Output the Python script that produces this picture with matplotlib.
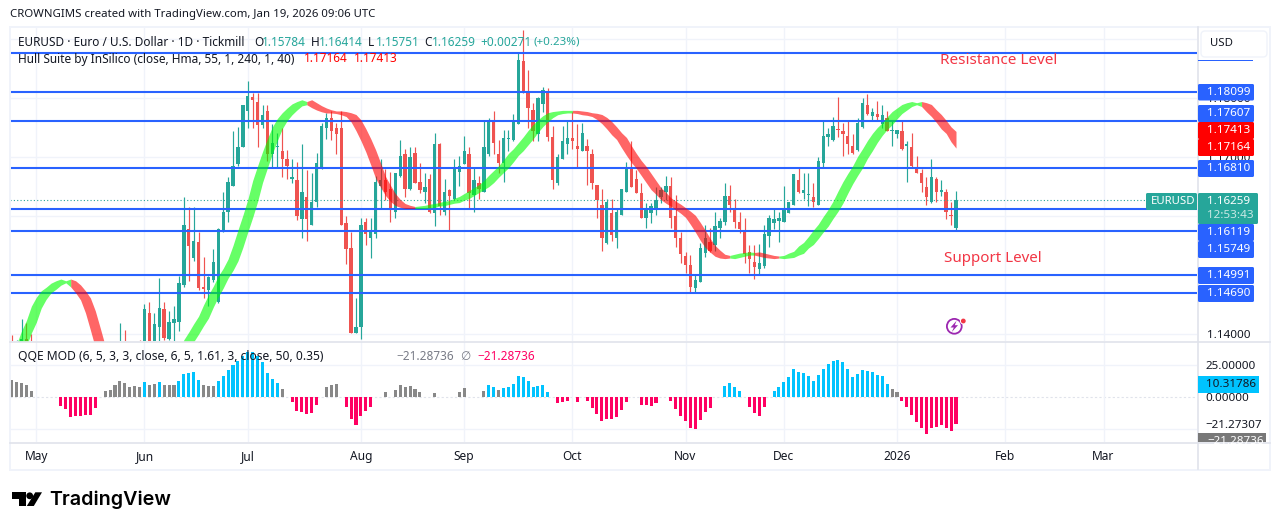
import numpy as np
import matplotlib
matplotlib.use("Agg")
import matplotlib.pyplot as plt
from matplotlib.patches import Rectangle, FancyBboxPatch, Polygon, Circle

plt.rcParams['font.family'] = ['Noto Sans', 'DejaVu Sans']

# Daily EURUSD candles, one entry per session from late April 2025
opens = [
    1.1365, 1.1340, 1.1365, 1.1391, 1.1372, 1.1330, 1.1345, 1.1305, 1.1285, 1.1250,
    1.1225, 1.1240, 1.1180, 1.1090, 1.1170, 1.1145, 1.1190, 1.1165, 1.1280, 1.1330,
    1.1290, 1.1280, 1.1340, 1.1375, 1.1330, 1.1350, 1.1350, 1.1330, 1.1435, 1.1370,
    1.1411, 1.1442, 1.1391, 1.1418, 1.1420, 1.1482, 1.1577, 1.1528, 1.1555, 1.1479,
    1.1474, 1.1491, 1.1454, 1.1574, 1.1606, 1.1651, 1.1688, 1.1717, 1.1778, 1.1802,
    1.1793, 1.1754, 1.1778, 1.1705, 1.1717, 1.1710, 1.1697, 1.1663, 1.1660, 1.1594,
    1.1631, 1.1585, 1.1624, 1.1682, 1.1748, 1.1765, 1.1748, 1.1748, 1.1587, 1.1545,
    1.1401, 1.1411, 1.1589, 1.1563, 1.1569, 1.1650, 1.1660, 1.1645, 1.1606, 1.1668,
    1.1704, 1.1645, 1.1707, 1.1658, 1.1641, 1.1663, 1.1604, 1.1721, 1.1606, 1.1643,
    1.1628, 1.1675, 1.1687, 1.1705, 1.1636, 1.1656, 1.1641, 1.1705, 1.1761, 1.1705,
    1.1690, 1.1730, 1.1729, 1.1756, 1.1863, 1.1809, 1.1780, 1.1739, 1.1790, 1.1809,
    1.1734, 1.1655, 1.1697, 1.1721, 1.1732, 1.1719, 1.1709, 1.1719, 1.1705, 1.1653,
    1.1618, 1.1553, 1.1604, 1.1563, 1.1602, 1.1640, 1.1680, 1.1663, 1.1638, 1.1596,
    1.1604, 1.1609, 1.1631, 1.1640, 1.1650, 1.1599, 1.1563, 1.1531, 1.1516, 1.1477,
    1.1488, 1.1536, 1.1555, 1.1550, 1.1579, 1.1589, 1.1633, 1.1612, 1.1589, 1.1575,
    1.1538, 1.1521, 1.1509, 1.1514, 1.1565, 1.1587, 1.1591, 1.1589, 1.1604, 1.1619,
    1.1661, 1.1638, 1.1635, 1.1631, 1.1619, 1.1690, 1.1734, 1.1729, 1.1747, 1.1744,
    1.1736, 1.1719, 1.1712, 1.1751, 1.1788, 1.1770, 1.1773, 1.1756, 1.1765, 1.1743,
    1.1738, 1.1744, 1.1719, 1.1717, 1.1682, 1.1673, 1.1648, 1.1623, 1.1663, 1.1640,
    1.1640, 1.1602, 1.15784,
]
highs = [
    1.1398, 1.1390, 1.1425, 1.1418, 1.1400, 1.1365, 1.1380, 1.1340, 1.1320, 1.1285,
    1.1260, 1.1265, 1.1200, 1.1190, 1.1265, 1.1225, 1.1235, 1.1285, 1.1365, 1.1345,
    1.1310, 1.1385, 1.1418, 1.1406, 1.1375, 1.1380, 1.1389, 1.1450, 1.1454, 1.1435,
    1.1494, 1.1454, 1.1438, 1.1447, 1.1498, 1.1631, 1.1614, 1.1614, 1.1572, 1.1530,
    1.1498, 1.1543, 1.1580, 1.1641, 1.1665, 1.1744, 1.1751, 1.1788, 1.1829, 1.1809,
    1.1809, 1.1788, 1.1788, 1.1756, 1.1741, 1.1748, 1.1712, 1.1697, 1.1692, 1.1721,
    1.1677, 1.1672, 1.1707, 1.1758, 1.1775, 1.1778, 1.1758, 1.1778, 1.1599, 1.1572,
    1.1460, 1.1596, 1.1596, 1.1596, 1.1668, 1.1697, 1.1680, 1.1675, 1.1672, 1.1729,
    1.1714, 1.1716, 1.1716, 1.1690, 1.1673, 1.1670, 1.1741, 1.1724, 1.1663, 1.1646,
    1.1697, 1.1702, 1.1736, 1.1717, 1.1682, 1.1668, 1.1760, 1.1765, 1.1778, 1.1729,
    1.1746, 1.1746, 1.1773, 1.1876, 1.1915, 1.1847, 1.1792, 1.1802, 1.1819, 1.1817,
    1.1753, 1.1705, 1.1753, 1.1761, 1.1776, 1.1756, 1.1758, 1.1731, 1.1714, 1.1653,
    1.1646, 1.1628, 1.1628, 1.1612, 1.1646, 1.1692, 1.1727, 1.1677, 1.1655, 1.1621,
    1.1621, 1.1648, 1.1648, 1.1668, 1.1665, 1.1636, 1.1572, 1.1538, 1.1533, 1.1499,
    1.1553, 1.1584, 1.1580, 1.1606, 1.1597, 1.1655, 1.1653, 1.1628, 1.1607, 1.1597,
    1.1550, 1.1550, 1.1552, 1.1585, 1.1601, 1.1612, 1.1606, 1.1651, 1.1624, 1.1670,
    1.1682, 1.1672, 1.1672, 1.1656, 1.1699, 1.1761, 1.1749, 1.1768, 1.1802, 1.1758,
    1.1761, 1.1738, 1.1766, 1.1800, 1.1807, 1.1783, 1.1795, 1.1788, 1.1778, 1.1760,
    1.1746, 1.1763, 1.1727, 1.1741, 1.1702, 1.1680, 1.1665, 1.1697, 1.1665, 1.1661,
    1.1646, 1.1624, 1.16414,
]
lows = [
    1.1330, 1.1325, 1.1355, 1.1340, 1.1320, 1.1310, 1.1298, 1.1270, 1.1240, 1.1205,
    1.1190, 1.1170, 1.1085, 1.1075, 1.1125, 1.1120, 1.1160, 1.1150, 1.1260, 1.1265,
    1.1250, 1.1275, 1.1330, 1.1300, 1.1285, 1.1300, 1.1300, 1.1320, 1.1350, 1.1360,
    1.1385, 1.1389, 1.1389, 1.1388, 1.1405, 1.1480, 1.1489, 1.1523, 1.1474, 1.1460,
    1.1447, 1.1488, 1.1452, 1.1572, 1.1589, 1.1651, 1.1685, 1.1717, 1.1748, 1.1748,
    1.1717, 1.1749, 1.1693, 1.1682, 1.1682, 1.1665, 1.1663, 1.1655, 1.1592, 1.1562,
    1.1557, 1.1585, 1.1614, 1.1680, 1.1731, 1.1729, 1.1704, 1.1584, 1.1518, 1.1401,
    1.1401, 1.1391, 1.1550, 1.1528, 1.1563, 1.1611, 1.1626, 1.1589, 1.1597, 1.1665,
    1.1631, 1.1643, 1.1655, 1.1638, 1.1621, 1.1604, 1.1582, 1.1602, 1.1602, 1.1574,
    1.1626, 1.1650, 1.1687, 1.1612, 1.1607, 1.1629, 1.1641, 1.1702, 1.1705, 1.1673,
    1.1658, 1.1710, 1.1727, 1.1756, 1.1809, 1.1749, 1.1727, 1.1727, 1.1776, 1.1727,
    1.1645, 1.1653, 1.1697, 1.1705, 1.1714, 1.1682, 1.1709, 1.1653, 1.1646, 1.1597,
    1.1541, 1.1552, 1.1558, 1.1545, 1.1601, 1.1640, 1.1648, 1.1638, 1.1597, 1.1579,
    1.1587, 1.1602, 1.1621, 1.1626, 1.1579, 1.1547, 1.1520, 1.1503, 1.1470, 1.1469,
    1.1488, 1.1530, 1.1538, 1.1541, 1.1562, 1.1584, 1.1606, 1.1580, 1.1570, 1.1520,
    1.1503, 1.1493, 1.1499, 1.1511, 1.1547, 1.1577, 1.1555, 1.1589, 1.1604, 1.1619,
    1.1638, 1.1628, 1.1616, 1.1614, 1.1619, 1.1682, 1.1719, 1.1726, 1.1734, 1.1702,
    1.1704, 1.1704, 1.1710, 1.1749, 1.1771, 1.1761, 1.1760, 1.1748, 1.1743, 1.1719,
    1.1732, 1.1712, 1.1658, 1.1682, 1.1672, 1.1641, 1.1618, 1.1621, 1.1623, 1.1633,
    1.1594, 1.1584, 1.15751,
]
closes = [
    1.1345, 1.1370, 1.1391, 1.1355, 1.1340, 1.1345, 1.1305, 1.1285, 1.1250, 1.1225,
    1.1240, 1.1180, 1.1090, 1.1170, 1.1145, 1.1190, 1.1165, 1.1280, 1.1330, 1.1290,
    1.1280, 1.1365, 1.1380, 1.1330, 1.1350, 1.1310, 1.1330, 1.1442, 1.1370, 1.1416,
    1.1443, 1.1393, 1.1420, 1.1425, 1.1486, 1.1584, 1.1548, 1.1558, 1.1477, 1.1476,
    1.1496, 1.1521, 1.1577, 1.1607, 1.1658, 1.1685, 1.1716, 1.1788, 1.1803, 1.1797,
    1.1754, 1.1771, 1.1705, 1.1724, 1.1719, 1.1697, 1.1685, 1.1665, 1.1599, 1.1640,
    1.1594, 1.1624, 1.1690, 1.1753, 1.1766, 1.1744, 1.1738, 1.1585, 1.1543, 1.1401,
    1.1411, 1.1585, 1.1569, 1.1572, 1.1658, 1.1661, 1.1641, 1.1612, 1.1672, 1.1702,
    1.1645, 1.1699, 1.1656, 1.1643, 1.1648, 1.1606, 1.1721, 1.1616, 1.1640, 1.1634,
    1.1680, 1.1685, 1.1710, 1.1638, 1.1660, 1.1646, 1.1717, 1.1761, 1.1724, 1.1690,
    1.1732, 1.1732, 1.1760, 1.1864, 1.1809, 1.1783, 1.1743, 1.1800, 1.1814, 1.1734,
    1.1661, 1.1699, 1.1726, 1.1732, 1.1727, 1.1714, 1.1741, 1.1709, 1.1655, 1.1626,
    1.1562, 1.1623, 1.1567, 1.1606, 1.1646, 1.1683, 1.1648, 1.1638, 1.1597, 1.1612,
    1.1616, 1.1626, 1.1643, 1.1650, 1.1597, 1.1562, 1.1535, 1.1516, 1.1479, 1.1491,
    1.1545, 1.1563, 1.1541, 1.1582, 1.1591, 1.1633, 1.1618, 1.1589, 1.1577, 1.1535,
    1.1526, 1.1513, 1.1520, 1.1569, 1.1596, 1.1594, 1.1597, 1.1609, 1.1624, 1.1670,
    1.1641, 1.1643, 1.1637, 1.1624, 1.1693, 1.1736, 1.1739, 1.1753, 1.1745, 1.1738,
    1.1721, 1.1707, 1.1758, 1.1792, 1.1773, 1.1776, 1.1768, 1.1771, 1.1744, 1.1745,
    1.1746, 1.1714, 1.1721, 1.1685, 1.1673, 1.1656, 1.1631, 1.1665, 1.1640, 1.1643,
    1.1607, 1.15988, 1.16259,
]

# Hull moving average; two sessions of lead-in precede the candles
hull_ma = [
    1.1330, 1.1345,
    1.1362, 1.1381, 1.1403, 1.1421, 1.1445, 1.1460, 1.1471, 1.1477, 1.1484, 1.1488,
    1.1491, 1.1488, 1.1481, 1.1471, 1.1459, 1.1437, 1.1408, 1.1378, 1.1347, 1.1322,
    1.1301, 1.1285, 1.1271, 1.1263, 1.1258, 1.1254, 1.1254, 1.1258, 1.1264, 1.1274,
    1.1291, 1.1308, 1.1330, 1.1352, 1.1369, 1.1388, 1.1401, 1.1415, 1.1428, 1.1447,
    1.1464, 1.1479, 1.1496, 1.1509, 1.1525, 1.1548, 1.1574, 1.1599, 1.1626, 1.1658,
    1.1683, 1.1707, 1.1729, 1.1749, 1.1763, 1.1773, 1.1781, 1.1788, 1.1792, 1.1795,
    1.1790, 1.1785, 1.1781, 1.1778, 1.1776, 1.1776, 1.1775, 1.1773, 1.1770, 1.1761,
    1.1746, 1.1729, 1.1710, 1.1688, 1.1665, 1.1650, 1.1636, 1.1626, 1.1619, 1.1616,
    1.1614, 1.1614, 1.1614, 1.1615, 1.1616, 1.1618, 1.1619, 1.1621, 1.1623, 1.1624,
    1.1628, 1.1631, 1.1636, 1.1641, 1.1646, 1.1651, 1.1658, 1.1667, 1.1675, 1.1683,
    1.1693, 1.1704, 1.1712, 1.1722, 1.1732, 1.1743, 1.1753, 1.1761, 1.1768, 1.1773,
    1.1775, 1.1776, 1.1777, 1.1777, 1.1776, 1.1775, 1.1773, 1.1772, 1.1770, 1.1765,
    1.1758, 1.1749, 1.1739, 1.1731, 1.1717, 1.1704, 1.1692, 1.1682, 1.1670, 1.1658,
    1.1646, 1.1638, 1.1629, 1.1623, 1.1618, 1.1612, 1.1606, 1.1599, 1.1587, 1.1574,
    1.1560, 1.1548, 1.1540, 1.1533, 1.1530, 1.1529, 1.1531, 1.1533, 1.1535, 1.1536,
    1.1537, 1.1535, 1.1533, 1.1531, 1.1530, 1.1529, 1.1530, 1.1531, 1.1535, 1.1538,
    1.1547, 1.1553, 1.1563, 1.1574, 1.1584, 1.1597, 1.1609, 1.1623, 1.1640, 1.1656,
    1.1670, 1.1683, 1.1699, 1.1712, 1.1726, 1.1738, 1.1748, 1.1756, 1.1766, 1.1775,
    1.1781, 1.1787, 1.1790, 1.1792, 1.1790, 1.1787, 1.1778, 1.1770, 1.1760, 1.1749,
    1.17413, 1.1727, 1.17164,
]

# Support and resistance levels drawn across the chart
level_prices = [1.18766, 1.18099, 1.17607, 1.16810, 1.16119, 1.15749, 1.14991, 1.14690]

# QQE MOD histogram; 0 marks sessions that print no bar
qqe_hist = [
    13.6, 11.5, 11.0, 9.2, 5.0, 0, 0, 0, 0, 0,
    -6.8, -9.2, -15.5, -14.7, -14.7, -13.9, -13.9, -8.4, 0, 5.0,
    5.8, 9.7, 12.9, 11.0, 7.5, 8.9, 8.1, 12.0, 9.7, 10.5,
    12.0, 9.7, 9.7, 9.7, 12.9, 18.1, 19.2, 19.9, 13.6, 9.7,
    8.7, 8.7, 12.9, 16.8, 21.5, 25.5, 28.6, 32.5, 35.2, 35.7,
    32.0, 27.8, 18.9, 14.4, 11.0, 6.6, 0, -3.7, -11.3, -11.5,
    -13.6, -12.9, -6.0, 0, 7.9, 9.4, 10.5, 0, -8.1, -17.0,
    -21.8, -14.7, -10.8, -7.6, 0, 0, 4.2, 0, 5.8, 9.7,
    7.6, 8.9, 6.6, 4.2, 0, 0, 3.4, 0, 0, 0,
    0, 4.2, 7.3, 0, 0, 0, 4.7, 9.7, 8.1, 5.8,
    7.3, 8.1, 10.5, 16.8, 16.0, 12.9, 8.1, 8.9, 9.7, 4.2,
    0, -5.0, -4.2, -3.4, 0, -4.2, 0, -3.4, -8.4, -13.6,
    -19.2, -17.0, -17.6, -15.5, -10.0, -4.2, 0, 0, -6.0, -6.6,
    -6.8, -5.0, 0, 0, -3.4, -9.2, -14.7, -19.2, -24.1, -24.9,
    -17.8, -11.5, -8.4, 0, 0, 8.9, 11.3, 8.1, 5.0, 0,
    -7.6, -12.3, -14.7, -7.6, 0, 5.0, 8.1, 12.0, 16.0, 22.3,
    19.9, 19.2, 16.8, 12.9, 17.6, 22.3, 26.2, 28.6, 29.4, 27.8,
    22.3, 16.0, 18.4, 21.5, 20.7, 19.9, 17.6, 16.8, 10.5, 6.6,
    4.2, -3.4, -7.6, -13.9, -19.4, -24.1, -28.9, -24.1, -23.4, -21.8,
    -24.1, -26.5, -21.28,
]
# Positive bars that stay grey instead of blue
qqe_neutral_bars = [0, 1, 2, 3, 4, 19, 20, 21, 22, 23, 24, 25, 26, 28, 29, 31, 32, 33,
                    39, 40, 41, 55, 64, 65, 66, 76, 78, 79, 80, 81, 82, 83, 86, 91, 92,
                    96, 99, 179, 180]

month_positions = [5, 27, 48, 71, 92, 114, 137, 157, 180, 202, 222]
month_labels = ['May', 'Jun', 'Jul', 'Aug', 'Sep', 'Oct', 'Nov', 'Dec', '2026', 'Feb', 'Mar']
price_ticks = [1.14, 1.15, 1.16, 1.17, 1.18, 1.19]
qqe_ticks = [25.0, 0.0, -21.27307]

W, H = 1281, 530
TEAL, CORAL, BLUE = '#26a69a', '#ef5350', '#2962ff'
GRID, EDGE, INK = '#f0f3fa', '#e0e3eb', '#131722'
LAST_PRICE = closes[-1]
# half the stroke of the two Hull plots, in price units
HULL_STROKE = 0.00017


def pane(left, top, right, bottom):
    return fig.add_axes([left / W, (H - bottom) / H, (right - left) / W, (bottom - top) / H])


fig = plt.figure(figsize=(W / 100, H / 100), dpi=100, facecolor='white')
ax = pane(10, 27, 1197, 341)
ax_q = pane(10, 342, 1197, 442)
xlim = (-0.346, 241.0)

# ---- price pane ----
ax.set_xlim(*xlim)
ax.set_ylim(1.13876, 1.19201)
ax.set_xticks(month_positions)
ax.set_xticklabels([])
ax.set_yticks(price_ticks)
ax.set_yticklabels([f'{v:.5f}' for v in price_ticks], fontsize=8.4, color=INK)
ax.yaxis.tick_right()
ax.tick_params(length=0, pad=7)
ax.grid(True, color=GRID, lw=1.0)
ax.set_axisbelow(True)
for s in ax.spines.values():
    s.set_visible(False)

x = np.arange(len(closes))
o, h, l, c = map(np.array, (opens, highs, lows, closes))
colors = np.where(c >= o, TEAL, CORAL)
ax.vlines(x, l, h, colors=colors, lw=0.85, zorder=2)
ax.bar(x, np.abs(c - o), bottom=np.minimum(o, c), width=0.68, color=colors, lw=0, zorder=2)

ax.hlines(LAST_PRICE, xlim[0], xlim[1], colors=TEAL, lw=0.8, linestyles=(0, (1, 2)), zorder=2)
for p in level_prices:
    ax.axhline(p, color=BLUE, lw=1.5, zorder=3)

# Hull band: the average against its own value two sessions earlier
hull = np.array(hull_ma)
hx = np.arange(len(hull)) - 2
lead, lag, bx = hull[2:], hull[:-2], hx[2:]
upper = np.maximum(lead, lag) + HULL_STROKE
lower = np.minimum(lead, lag) - HULL_STROKE
rising = lead >= lag
start = 0
for k in range(1, len(lead) + 1):
    if k == len(lead) or rising[k] != rising[start]:
        end = min(k + 1, len(lead))
        ax.fill_between(bx[start:end], upper[start:end], lower[start:end],
                        color='#00ff00' if rising[start] else '#ff0000',
                        alpha=0.6, lw=0, zorder=4)
        start = k

# ---- QQE pane ----
ax_q.set_xlim(*xlim)
ax_q.set_ylim(-35.4, 43.3)
ax_q.set_xticks(month_positions)
ax_q.set_xticklabels(month_labels, fontsize=8.6, color=INK)
ax_q.get_xticklabels()[8].set_fontweight('bold')
ax_q.set_yticks(qqe_ticks)
ax_q.set_yticklabels(['25.00000', '0.00000', '\u221221.27307'], fontsize=8.4, color=INK)
ax_q.yaxis.tick_right()
ax_q.tick_params(axis='y', length=0, pad=6)
ax_q.tick_params(axis='x', length=0, pad=6)
ax_q.grid(True, axis='x', color=GRID, lw=1.0)
ax_q.set_axisbelow(True)
for s in ax_q.spines.values():
    s.set_visible(False)
ax_q.axhline(25, color=GRID, lw=1.0, zorder=0)
ax_q.axhline(-25, color=GRID, lw=1.0, zorder=0)
ax_q.axhline(0, color=EDGE, lw=0.8, ls=(0, (2, 2)), zorder=0)

vals = np.array(qqe_hist)
qx = np.arange(len(vals))
bar_colors = ['#ff0062' if v < 0 else ('#888888' if i in qqe_neutral_bars else '#00c3ff')
              for i, v in enumerate(vals)]
mask = vals != 0
ax_q.bar(qx[mask], vals[mask], width=0.62, color=np.array(bar_colors)[mask], lw=0, zorder=2)

# ---- overlay in figure pixels: frame, legends, price tags ----
ov = fig.add_axes([0, 0, 1, 1], zorder=10)
ov.set_xlim(0, W)
ov.set_ylim(H, 0)
ov.axis('off')
ov.patch.set_alpha(0)


def txt(px, py, s, size=8.4, color=INK, ha='left', **kw):
    return ov.text(px, py, s, fontsize=size, color=color, ha=ha, va='center', **kw)


def tag(x0, y0, x1, y1, color, radius=1.5):
    ov.add_patch(FancyBboxPatch((x0 + radius, y0 + radius), x1 - x0 - 2 * radius, y1 - y0 - 2 * radius,
                                boxstyle=f'round,pad={radius},rounding_size={radius}',
                                fc=color, ec='none', zorder=3))


# frame and separators
ov.add_patch(Rectangle((9.5, 26.5), 1260, 443, fc='none', ec=GRID, lw=1.4, zorder=1))
ov.plot([10, 1270], [341.5, 341.5], color=EDGE, lw=1.2, zorder=1)
ov.plot([10, 1270], [442.5, 442.5], color=EDGE, lw=1.2, zorder=1)
ov.plot([1197.5, 1197.5], [27, 469], color=EDGE, lw=1.2, zorder=1)

# header and legends
txt(10, 15, 'CROWNGIMS created with TradingView.com, Jan 19, 2026 09:06 UTC', size=8.2)
txt(18, 42, 'EURUSD \u00b7 Euro / U.S. Dollar \u00b7 1D \u00b7 Tickmill', size=8.5)
for px, lab, val in [(254, 'O', '1.15784'), (311, 'H', '1.16414'),
                     (368, 'L', '1.15751'), (424, 'C', '1.16259')]:
    txt(px, 42, lab, size=8.5)
    txt(px + 8, 42, val, size=8.5, color=TEAL)
txt(480, 42, '+0.00271', size=8.5, color=TEAL)
txt(534, 42, '(+0.23%)', size=8.3, color=TEAL)
txt(18, 59, 'Hull Suite by InSilico (close, Hma, 55, 1, 240, 1, 40)', size=8.55)
txt(304, 59, '1.17164', size=8.5, color='#ff0000')
txt(354, 59, '1.17413', size=8.5, color='#ff0000')
txt(18, 357, 'QQE MOD (6, 5, 3, 3, close, 6, 5, 1.61, 3, close, 50, 0.35)', size=8.7)
txt(396, 357, '\u221221.28736', size=8.5, color='#787b86')
txt(460, 357, '\u2205', size=8.5, color='#787b86')
txt(477, 357, '\u221221.28736', size=8.5, color='#ff0062')

# hand-placed chart notes
txt(940, 60, 'Resistance Level', size=11, color='#f23645')
txt(944, 258, 'Support Level', size=10.9, color='#f23645')

# axis tags for the levels, moved apart where they would collide
ov.add_patch(Rectangle((1198, 60), 55, 1.4, fc=BLUE, ec='none', zorder=3))
ov.add_patch(FancyBboxPatch((1203, 33), 62, 22, boxstyle='round,pad=2,rounding_size=4',
                            fc='white', ec=GRID, lw=1.0, zorder=4))
txt(1210, 44, 'USD', size=8.2, zorder=5)
for y0, y1, label, color in [(84, 100.5, '1.18099', BLUE), (105, 122, '1.17607', BLUE),
                             (122, 139, '1.17413', '#ff0000'), (139, 156, '1.17164', '#ff0000'),
                             (160, 177, '1.16810', BLUE), (224, 241, '1.16119', BLUE),
                             (241, 258, '1.15749', BLUE), (267, 284, '1.14991', BLUE),
                             (285, 302, '1.14690', BLUE)]:
    tag(1198, y0, 1254, y1, color)
    txt(1207, (y0 + y1) / 2, label, color='white', zorder=5)

tag(1146, 193, 1197, 210, TEAL)
txt(1151, 201.5, 'EURUSD', size=8.2, color='white', zorder=5)
tag(1198, 193, 1258, 224, TEAL)
txt(1207, 201.5, f'{LAST_PRICE:.5f}', color='white', zorder=5)
txt(1207, 216, '12:53:43', color='#c8e8e4', zorder=5)

# QQE axis tags
ov.add_patch(Rectangle((1198, 376), 61, 17, fc='#00c3ff', ec='none', zorder=3))
txt(1206, 384.5, '10.31786', color=INK, zorder=5)
gray_clip = Rectangle((1198, 433), 68, 9, fc='#787878', ec='none', zorder=3)
ov.add_patch(gray_clip)
t = txt(1207, 441, '\u221221.28736', color='white', zorder=5)
t.set_clip_path(gray_clip)

# alert badge on the chart
badge = Circle((954.3, 326.3), 7.4, fc='white', ec='#9c27b0', lw=1.3, zorder=5)
ov.add_patch(badge)
ov.add_patch(Polygon([(956.5, 320.8), (950.5, 327.5), (953.8, 327.5), (951.8, 332),
                      (958, 325.2), (954.8, 325.2)], fc='#9c27b0', ec='none', zorder=6))
ov.add_patch(Circle((963.3, 321), 3.4, fc='white', ec='none', zorder=6))
ov.add_patch(Circle((963.3, 321), 2.4, fc='#f23645', ec='none', zorder=7))

# footer wordmark
ov.add_patch(Polygon([(12.3, 492.3), (26, 492.3), (26, 506), (19, 506), (19, 499), (12.3, 499)],
                     fc='#000000', ec='none'))
ov.add_patch(Circle((29.7, 495.8), 3.4, fc='#000000', ec='none'))
ov.add_patch(Polygon([(35.3, 492.3), (42, 492.3), (33.8, 506), (26.8, 506)], fc='#000000', ec='none'))
txt(49, 500, 'TradingView', size=14.2, color='#000000', family='Inter', fontweight='semibold')

fig.savefig('out.png', dpi=100)
